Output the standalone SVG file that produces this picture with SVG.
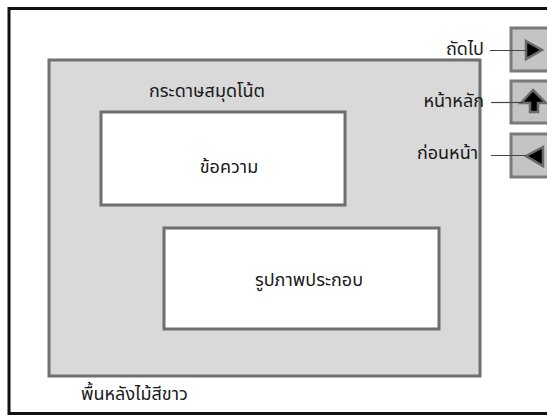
<svg xmlns="http://www.w3.org/2000/svg" width="547" height="417" viewBox="0 0 547 417">
<style>
text{font-family:"Noto Sans Thai","Tahoma","Noto Sans","DejaVu Sans",sans-serif;font-size:18px;fill:#1a1a1a}
.box{fill:#fff;stroke:#6e6e6e;stroke-width:3}
.btn{fill:#c4c4c4;stroke:#7a7a7a;stroke-width:3}
.ico{fill:#000;stroke:#6a6a6a;stroke-width:2.5;stroke-linejoin:miter}
.conn{stroke:#444;stroke-width:1.2;fill:none}
</style>
<rect width="547" height="417" fill="#fff"/>
<g id="frame">
<rect x="9" y="8.5" width="560" height="405" fill="#fff" stroke="#111" stroke-width="3"/>
<text x="81" y="400">พื้นหลังไม้สีขาว</text>
</g>
<g id="paper">
<rect x="49" y="60" width="431" height="316" fill="#d9d9d9" stroke="#707070" stroke-width="3"/>
<text x="207" y="97" text-anchor="middle">กระดาษสมุดโน้ต</text>
</g>
<g id="text-box">
<rect class="box" x="101" y="112" width="244" height="93"/>
<text x="229" y="173" text-anchor="middle">ข้อความ</text>
</g>
<g id="image-box">
<rect class="box" x="164" y="228" width="275" height="101"/>
<text x="309" y="286" text-anchor="middle">รูปภาพประกอบ</text>
</g>
<g id="btn-next">
<rect class="btn" x="511" y="28" width="50" height="43"/>
<polygon class="ico" points="526,41 542,50 526,59"/>
<text x="484" y="55" text-anchor="end">ถัดไป</text>
</g>
<g id="btn-home">
<rect class="btn" x="511" y="81" width="50" height="42"/>
<polygon class="ico" points="533,90 546,103 538,103 538,112 530,112 530,103 521,103"/>
<text x="484" y="107" text-anchor="end">หน้าหลัก</text>
</g>
<g id="btn-prev">
<rect class="btn" x="511" y="134" width="50" height="43"/>
<polygon class="ico" points="526,156 543,147 543,166"/>
<text x="478" y="159" text-anchor="end">ก่อนหน้า</text>
</g>
<g id="connectors">
<line class="conn" x1="490" y1="50.5" x2="526" y2="50.5"/>
<line class="conn" x1="491" y1="102.5" x2="523" y2="102.5"/>
<line class="conn" x1="491" y1="155.5" x2="526" y2="155.5"/>
</g>
</svg>
